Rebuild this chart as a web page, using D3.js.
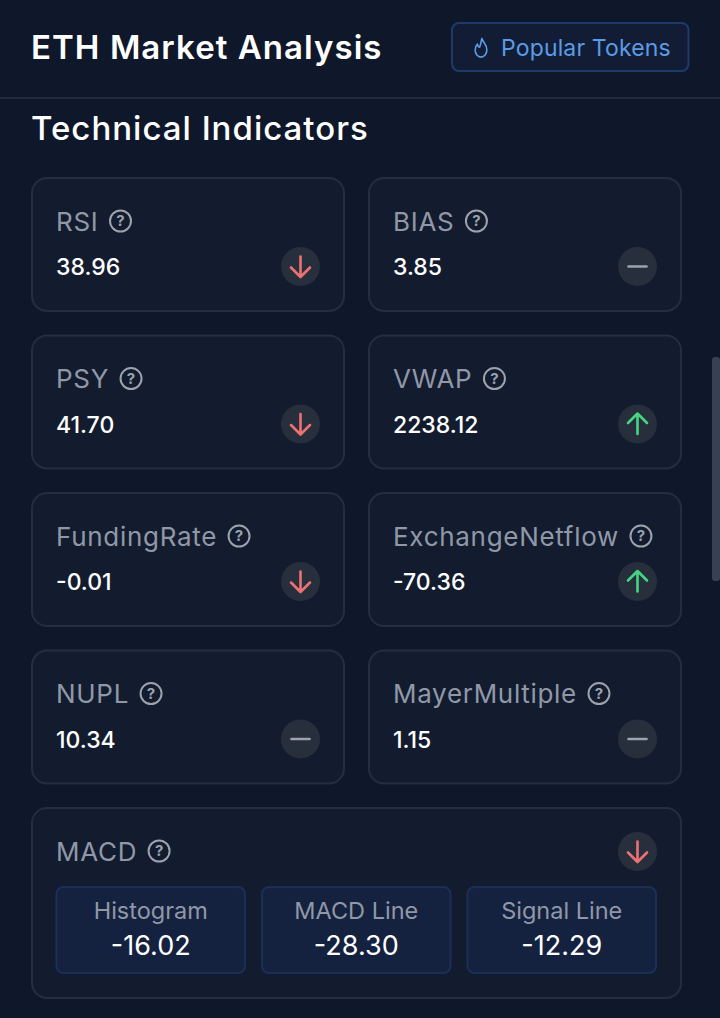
<!DOCTYPE html>
<html>
<head>
<meta charset="utf-8">
<script src="https://cdn.jsdelivr.net/npm/d3@7"></script>
<style>
  html, body { margin: 0; padding: 0; background: #0f172a; overflow: hidden; }
  svg { display: block; font-family: Inter, "Noto Sans", sans-serif; }
</style>
</head>
<body>
<div class="App"></div>
<script>
// values
const indicatorNames = ['RSI', 'BIAS', 'PSY', 'VWAP', 'FundingRate', 'ExchangeNetflow', 'NUPL', 'MayerMultiple'];
const indicatorValues = ['38.96', '3.85', '41.70', '2238.12', '-0.01', '-70.36', '10.34', '1.15'];
const indicatorTrends = ['down', 'flat', 'down', 'up', 'down', 'up', 'flat', 'flat'];
const macdNames = ['Histogram', 'MACD Line', 'Signal Line'];
const macdValues = ['-16.02', '-28.30', '-12.29'];
const macdTrend = 'down';

const width = 720, height = 1018;
const trendColor = { down: '#ec7272', up: '#46d583', flat: '#9ca3af' };

const svg = d3.select('.App')
    .append('svg')
    .attr('width', width)
    .attr('height', height);

svg.append('rect').attr('width', width).attr('height', height).attr('fill', '#0f172a');

// header
svg.append('text')
    .attr('x', 31).attr('y', 59)
    .attr('fill', '#ffffff')
    .attr('font-size', 33).attr('font-weight', 600)
    .attr('letter-spacing', 1.05)
    .text('ETH Market Analysis');

svg.append('rect')
    .attr('x', 452).attr('y', 23).attr('width', 236.5).attr('height', 48).attr('rx', 7)
    .attr('fill', '#121d35').attr('stroke', '#1e3a6b').attr('stroke-width', 2);

svg.append('path')
    .attr('transform', 'translate(481,48) scale(0.9,0.95)')
    .attr('d', 'M1-10C2-6 6.5-4 6.5 2A6.5 7.5 0 0 1-6.5 2C-6.5-1-5-3-4-4C-3.5-2-2.5-1-1.5-1C0-4 0-7 1-10Z')
    .attr('fill', 'none').attr('stroke', '#5b9be6').attr('stroke-width', 1.8).attr('stroke-linejoin', 'round');

svg.append('text')
    .attr('x', 501).attr('y', 55.5)
    .attr('fill', '#5b9be6')
    .attr('font-size', 23).attr('font-weight', 400)
    .attr('letter-spacing', 0.15)
    .text('Popular Tokens');

svg.append('line')
    .attr('x1', 0).attr('x2', width).attr('y1', 98).attr('y2', 98)
    .attr('stroke', '#1f2a3c').attr('stroke-width', 2);

svg.append('text')
    .attr('x', 31).attr('y', 140)
    .attr('fill', '#ffffff')
    .attr('font-size', 33).attr('font-weight', 500)
    .attr('letter-spacing', 1)
    .text('Technical Indicators');

// scrollbar
svg.append('rect')
    .attr('x', 712).attr('y', 357).attr('width', 8).attr('height', 224).attr('rx', 3)
    .attr('fill', '#374151');

const col = d3.scaleBand().domain([0, 1]).range([32, 681]).paddingInner(25 / 337);
const row = d3.scaleBand().domain([0, 1, 2, 3]).range([178, 783.5]).paddingInner(24.6 / 157.6);
const macdCol = d3.scaleBand().domain(macdNames).range([56.5, 656]).paddingInner(17 / 205.5);

function card(g, w, h) {
    g.append('rect')
        .attr('width', w).attr('height', h).attr('rx', 15)
        .attr('fill', '#131c2e').attr('stroke', '#252e3f').attr('stroke-width', 2);
}

function helpIcon(g, cx, cy) {
    g.append('circle')
        .attr('cx', cx).attr('cy', cy).attr('r', 10.5)
        .attr('fill', 'none').attr('stroke', '#9ca3af').attr('stroke-width', 2);
    g.append('text')
        .attr('x', cx).attr('y', cy + 5.3)
        .attr('text-anchor', 'middle')
        .attr('fill', '#9ca3af')
        .attr('font-size', 15).attr('font-weight', 700)
        .text('?');
}

function trendIcon(g, cx, cy, trend) {
    g.append('circle').attr('cx', cx).attr('cy', cy).attr('r', 19.5).attr('fill', '#272f3d');
    const d = {
        down: 'M0-10V10M-9.5 1L0 10.5L9.5 1',
        up: 'M0 10V-10M-9.5-1L0-10.5L9.5-1',
        flat: 'M-9 0H9'
    }[trend];
    g.append('path')
        .attr('transform', 'translate(' + cx + ',' + cy + ')')
        .attr('d', d)
        .attr('fill', 'none')
        .attr('stroke', trendColor[trend])
        .attr('stroke-width', 2.6)
        .attr('stroke-linecap', 'round').attr('stroke-linejoin', 'round');
}

const labelColor = '#9098a8';

const cards = svg.selectAll('g.indicator')
    .data(indicatorNames)
    .join('g')
    .attr('class', 'indicator')
    .attr('transform', (d, i) => 'translate(' + col(i % 2) + ',' + row(Math.floor(i / 2)) + ')');

cards.each(function(name, i) {
    const g = d3.select(this);
    card(g, col.bandwidth(), row.bandwidth());
    const label = g.append('text')
        .attr('x', 24).attr('y', 52.5)
        .attr('fill', labelColor)
        .attr('font-size', 26).attr('font-weight', 400)
        .attr('letter-spacing', 0.7)
        .text(name);
    const labelWidth = label.node().getComputedTextLength();
    helpIcon(g, 24 + labelWidth + 22, 43);
    g.append('text')
        .attr('x', 24).attr('y', 97)
        .attr('fill', '#ffffff')
        .attr('font-size', 23).attr('font-weight', 500)
        .text(indicatorValues[i]);
    trendIcon(g, 268.5, 88.5, indicatorTrends[i]);
});

// MACD card
const macd = svg.append('g').attr('transform', 'translate(32,808)');
card(macd, 649, 190);
const macdLabel = macd.append('text')
    .attr('x', 24).attr('y', 53)
    .attr('fill', labelColor)
    .attr('font-size', 26)
    .attr('letter-spacing', 0.7)
    .text('MACD');
helpIcon(macd, 24 + macdLabel.node().getComputedTextLength() + 22, 43);
trendIcon(macd, 605.5, 43.5, macdTrend);

const sub = svg.selectAll('g.macd')
    .data(macdNames)
    .join('g')
    .attr('class', 'macd')
    .attr('transform', d => 'translate(' + macdCol(d) + ',887)');

sub.append('rect')
    .attr('width', macdCol.bandwidth()).attr('height', 86).attr('rx', 7)
    .attr('fill', '#15223f').attr('stroke', '#1b2e58').attr('stroke-width', 2);

sub.append('text')
    .attr('x', macdCol.bandwidth() / 2).attr('y', 32)
    .attr('text-anchor', 'middle')
    .attr('fill', labelColor)
    .attr('font-size', 23.5)
    .text(d => d);

sub.append('text')
    .attr('x', macdCol.bandwidth() / 2).attr('y', 68)
    .attr('text-anchor', 'middle')
    .attr('fill', '#ffffff')
    .attr('font-size', 27)
    .text((d, i) => macdValues[i]);
</script>
</body>
</html>
